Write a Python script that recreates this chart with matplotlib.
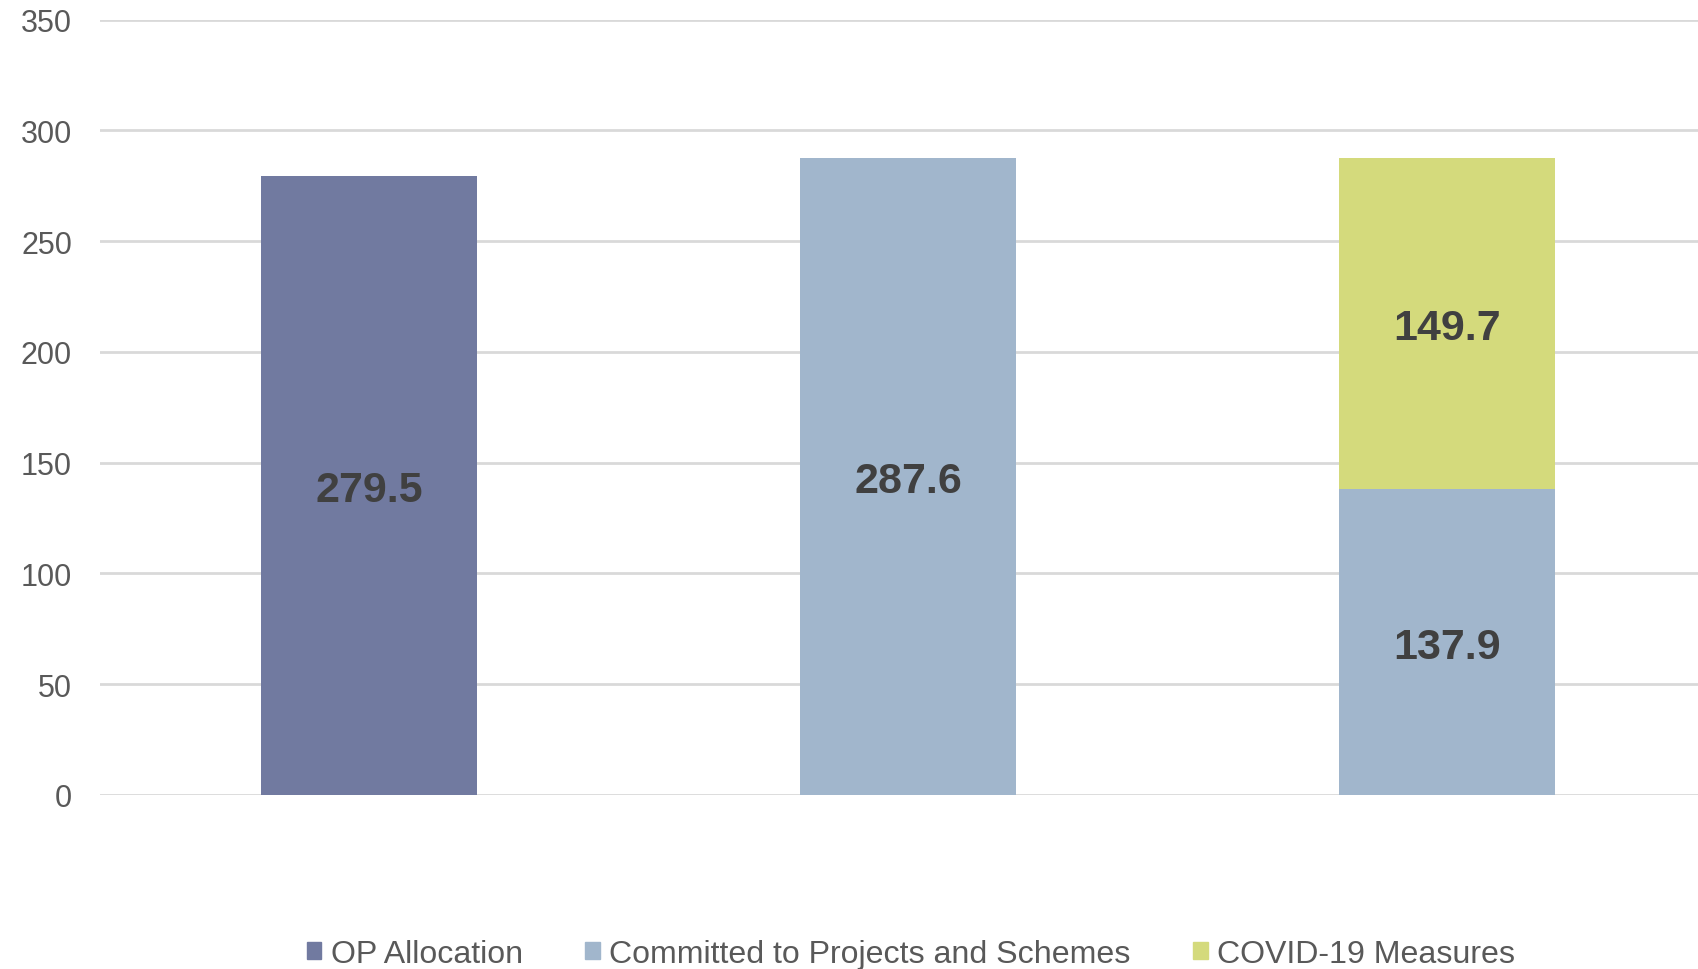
import matplotlib.pyplot as plt
from matplotlib.patches import Patch

categories = ["OP Allocation", "Committed", "COVID split"]
op_allocation = [279.5, 0, 0]
committed = [0, 287.6, 137.9]
covid = [0, 0, 149.7]

series_names = ["OP Allocation", "Committed to Projects and Schemes", "COVID-19 Measures"]
colors = ["#717AA0", "#A1B6CC", "#D4DA7C"]

plt.rcParams['font.family'] = ['Liberation Sans', 'DejaVu Sans']

fig = plt.figure(figsize=(16.98, 9.70), dpi=100)
ax = fig.add_axes([0.0587, 0.1794, 1 - 0.0587, 0.9788 - 0.1794])

x = list(range(len(categories)))
ax.bar(x, op_allocation, width=0.4, color=colors[0], zorder=2)
ax.bar(x, committed, width=0.4, color=colors[1], zorder=2)
ax.bar(x, covid, width=0.4, bottom=committed, color=colors[2], zorder=2)

# labels in the middle of each segment
for i in x:
    bottom = 0
    for vals in (op_allocation, committed, covid):
        v = vals[i]
        if v > 0:
            ax.text(i, bottom + v / 2, f"{v:.1f}", ha='center', va='center_baseline',
                    fontsize=31, fontweight='bold', color='#404040', zorder=3)
            bottom += v

ax.set_ylim(0, 350)
ax.set_xlim(-0.5, 2.466)
ax.set_yticks(range(0, 351, 50))
ax.set_xticks([])
ax.yaxis.grid(True, color='#D9D9D9', linewidth=2)
ax.set_axisbelow(True)
for s in ax.spines.values():
    s.set_visible(False)
ax.tick_params(axis='y', length=0, pad=20, labelsize=22, labelcolor='#595959')

handles = [Patch(color=c) for c in colors]
fig.legend(handles, series_names, loc='center', bbox_to_anchor=(0.5365, 0.0155),
           ncol=3, frameon=False, fontsize=23.1, labelcolor='#595959',
           handlelength=0.45, handleheight=0.45, handletextpad=0.3,
           columnspacing=1.95)

fig.savefig("out.png", dpi=100)
